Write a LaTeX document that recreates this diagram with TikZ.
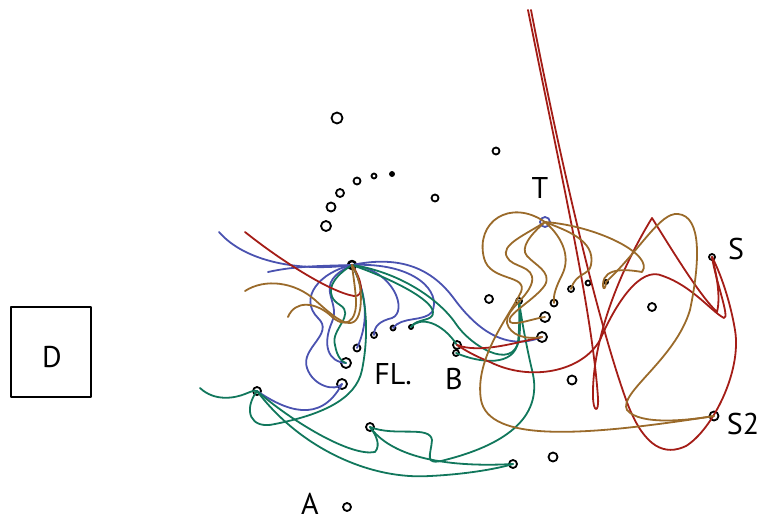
\documentclass[tikz,border=0pt]{standalone}
\usepackage{fontspec}
\setmainfont{PT Sans}
\definecolor{cblue}{HTML}{4A52B0}
\definecolor{cgreen}{HTML}{11775C}
\definecolor{cred}{HTML}{A41D17}
\definecolor{cbrown}{HTML}{9A6A2A}
\begin{document}
\begin{tikzpicture}[x=1pt,y=-1pt,
  pt/.style={draw, circle, inner sep=0pt, line width=1.8pt, minimum size=#1},
  pt/.default=8pt,
  lbl/.style={font=\fontsize{30}{32}\selectfont, inner sep=0pt},
  bl/.style={draw=cblue, line width=1.8pt},
  gr/.style={draw=cgreen, line width=1.8pt},
  rd/.style={draw=cred, line width=1.8pt},
  br/.style={draw=cbrown, line width=1.8pt},
  line cap=round, line join=round]
\useasboundingbox (0,0) rectangle (782,522);

% box D
\node[draw, line width=1.8pt, minimum width=80pt, minimum height=90pt, inner sep=0pt] (D) at (51,352) {};
\node[lbl] (Dl) at (52,357) {D};

% labels
\node[lbl] (Tl) at (540,188) {T};
\node[lbl] (Sl) at (736,249) {S};
\node[lbl] (S2l) at (743,424) {S2};
\node[lbl] (FLl) at (393,374) {FL.};
\node[lbl] (Bl) at (454,379) {B};
\node[lbl] (Al) at (310,504) {A};

% circles
\node[pt=11pt] (c1) at (337,118) {};
\node[pt=7pt] (c2) at (496,151) {};
\node[pt=7pt] (c3) at (435,198) {};
\node[pt=10pt] (c4) at (326,226) {};
\node[pt=9pt] (c5) at (331,207) {};
\node[pt=8pt] (c6) at (340,193) {};
\node[pt=7pt] (c7) at (357,181) {};
\node[pt=5pt] (c8) at (374,176) {};
\node[pt=4pt, fill] (c9) at (392,174) {};
\node[pt=8pt, line width=2.4pt] (hub) at (352,265) {};
\node[pt=10pt, draw=cblue] (T) at (545,222) {};
\node[pt=6pt] (S) at (712,257) {};
\node[pt=9pt] (S2) at (714,416) {};
\node[pt=8pt] (c10) at (489,299) {};
\node[pt=6pt] (c11) at (519,301) {};
\node[pt=7pt] (c12) at (554,303) {};
\node[pt=10pt] (c13) at (545,317) {};
\node[pt=10pt] (c14) at (542,337) {};
\node[pt=6pt] (c15) at (571,289) {};
\node[pt=5pt] (c16) at (588,283) {};
\node[pt=4pt] (c17) at (606,282) {};
\node[pt=8pt] (c18) at (652,307) {};
\node[pt=9pt] (c19) at (572,380) {};
\node[pt=9pt] (c20) at (553,457) {};
\node[pt=8pt] (c21) at (513,464) {};
\node[pt=8pt] (c22) at (370,427) {};
\node[pt=8pt] (c23) at (257,391) {};
\node[pt=8pt] (cA) at (347,507) {};
\node[pt=7pt] (c24) at (357,348) {};
\node[pt=10pt] (c25) at (346,363) {};
\node[pt=10pt] (c26) at (342,384) {};
\node[pt=6pt] (c27) at (374,335) {};
\node[pt=5pt] (c28) at (393,328) {};
\node[pt=4pt] (c29) at (411,327) {};
\node[pt=8pt] (c30) at (457,345) {};
\node[pt=6pt] (c31) at (456,353) {};

\coordinate (bL1) at (219,232);
\coordinate (bL2) at (268,272);
\coordinate (gL) at (200,388);
\coordinate (rL) at (245,232);
\coordinate (rT1) at (528,10);
\coordinate (rT2) at (531,10);
\coordinate (wL1) at (245,291);
\coordinate (wL2) at (288,317);

% blue
\draw[bl] (bL1) .. controls (245,262) and (300,272) .. (hub.center);
\draw[bl] (bL2) .. controls (295,266) and (320,266) .. (hub.center);
\draw[bl] (hub.center) .. controls (320,272) and (298,298) .. (318,318) .. controls (335,334) and (300,348) .. (307,368) .. controls (313,386) and (335,392) .. (c26.center);
\draw[bl] (hub.center) .. controls (310,285) and (342,300) .. (332,322) .. controls (322,345) and (328,362) .. (c25.center);
\draw[bl] (hub.center) .. controls (366,292) and (370,320) .. (c24.center);
\draw[bl] (hub.center) .. controls (395,270) and (408,312) .. (392,318) .. controls (380,321) and (374,326) .. (c27.center);
\draw[bl] (hub.center) .. controls (415,262) and (442,292) .. (432,312) .. controls (424,322) and (402,316) .. (c28.center);
\draw[bl] (hub.center) .. controls (400,255) and (432,268) .. (455,300) .. controls (476,328) and (505,352) .. (c14.center);
\draw[bl] (c23.center) .. controls (285,410) and (320,425) .. (c26.center);

% green
\draw[gr] (gL) .. controls (215,402) and (235,398) .. (245,394) .. controls (250,392) and (254,390) .. (c23.center);
\draw[gr] (c23.center) .. controls (243,410) and (250,430) .. (275,424) .. controls (320,415) and (356,400) .. (362,370) .. controls (370,330) and (366,290) .. (hub.center);
\draw[gr] (c23.center) .. controls (290,420) and (350,457) .. (375,452) .. controls (381,445) and (376,435) .. (c22.center);
\draw[gr] (c23.center) .. controls (300,448) and (370,480) .. (430,476) .. controls (470,474) and (500,468) .. (c21.center);
\draw[gr] (c22.center) .. controls (390,455) and (440,468) .. (c21.center);
\draw[gr] (c22.center) .. controls (395,437) and (430,425) .. (432,440) .. controls (431,455) and (423,466) .. (445,460) .. controls (500,446) and (545,420) .. (532,370) .. controls (525,340) and (521,315) .. (c11.center);
\draw[gr] (hub.center) .. controls (328,280) and (325,296) .. (340,305) .. controls (356,315) and (330,330) .. (335,345) .. controls (337,357) and (342,362) .. (c25.center);
\draw[gr] (hub.center) .. controls (395,280) and (432,300) .. (433,312) .. controls (434,322) and (416,318) .. (c29.center);
\draw[gr] (c29.center) .. controls (420,316) and (442,322) .. (c30.center);
\draw[gr] (c31.center) .. controls (482,364) and (514,366) .. (518,342) .. controls (520,322) and (519,310) .. (c11.center);
\draw[gr] (hub.center) .. controls (400,272) and (440,300) .. (456,324) .. controls (470,345) and (512,372) .. (519,340) .. controls (521,325) and (520,310) .. (c11.center);

% red
\draw[rd] (rL) .. controls (280,260) and (330,292) .. (354,296) .. controls (365,297) and (362,280) .. (hub.center);
\draw[rd] (rT1) .. controls (560,170) and (592,310) .. (598,398) .. controls (599,414) and (593,412) .. (593,396) .. controls (592,340) and (620,270) .. (652,218) .. controls (672,250) and (700,296) .. (717,312) .. controls (721,296) and (716,272) .. (S.center);
\draw[rd] (rT2) .. controls (562,170) and (600,330) .. (628,405) .. controls (645,448) and (665,456) .. (686,446) .. controls (712,430) and (742,372) .. (735,330) .. controls (730,300) and (720,272) .. (S.center);
\draw[rd] (S.center) .. controls (716,282) and (730,318) .. (724,318) .. controls (712,312) and (692,286) .. (663,276) .. controls (640,265) and (615,305) .. (600,340) .. controls (582,372) and (530,382) .. (490,362) .. controls (470,354) and (462,348) .. (c30.center);
\draw[rd] (c30.center) .. controls (480,354) and (518,342) .. (c14.center);

% brown
\draw[br] (wL1) .. controls (265,278) and (295,282) .. (315,300) .. controls (335,318) and (355,336) .. (360,310) .. controls (363,290) and (358,275) .. (hub.center);
\draw[br] (wL2) .. controls (295,300) and (315,302) .. (330,315) .. controls (345,330) and (357,322) .. (356,300) .. controls (355,285) and (353,275) .. (hub.center);
\draw[br] (T.center) .. controls (510,198) and (475,222) .. (484,258) .. controls (490,282) and (528,274) .. (521,292) .. controls (510,315) and (474,358) .. (481,400) .. controls (489,442) and (580,437) .. (S2.center);
\draw[br] (T.center) .. controls (525,235) and (500,245) .. (507,257) .. controls (512,268) and (535,265) .. (532,282) .. controls (528,298) and (505,310) .. (507,323) .. controls (510,335) and (525,340) .. (c14.center);
\draw[br] (T.center) .. controls (530,235) and (520,248) .. (527,256) .. controls (535,265) and (552,272) .. (545,285) .. controls (535,300) and (505,315) .. (510,322) .. controls (515,326) and (535,318) .. (c13.center);
\draw[br] (T.center) .. controls (560,235) and (572,255) .. (562,275) .. controls (556,287) and (553,295) .. (c12.center);
\draw[br] (T.center) .. controls (565,230) and (596,240) .. (591,265) .. controls (589,276) and (576,272) .. (c15.center);
\draw[br] (T.center) .. controls (598,226) and (655,255) .. (642,272) .. controls (630,270) and (604,266) .. (603,284) .. controls (603,292) and (606,288) .. (c17.center);
\draw[br] (c17.center) .. controls (640,250) and (660,212) .. (678,214) .. controls (702,216) and (700,262) .. (690,310) .. controls (675,360) and (618,393) .. (627,410) .. controls (640,426) and (690,420) .. (S2.center);
\end{tikzpicture}
\end{document}
